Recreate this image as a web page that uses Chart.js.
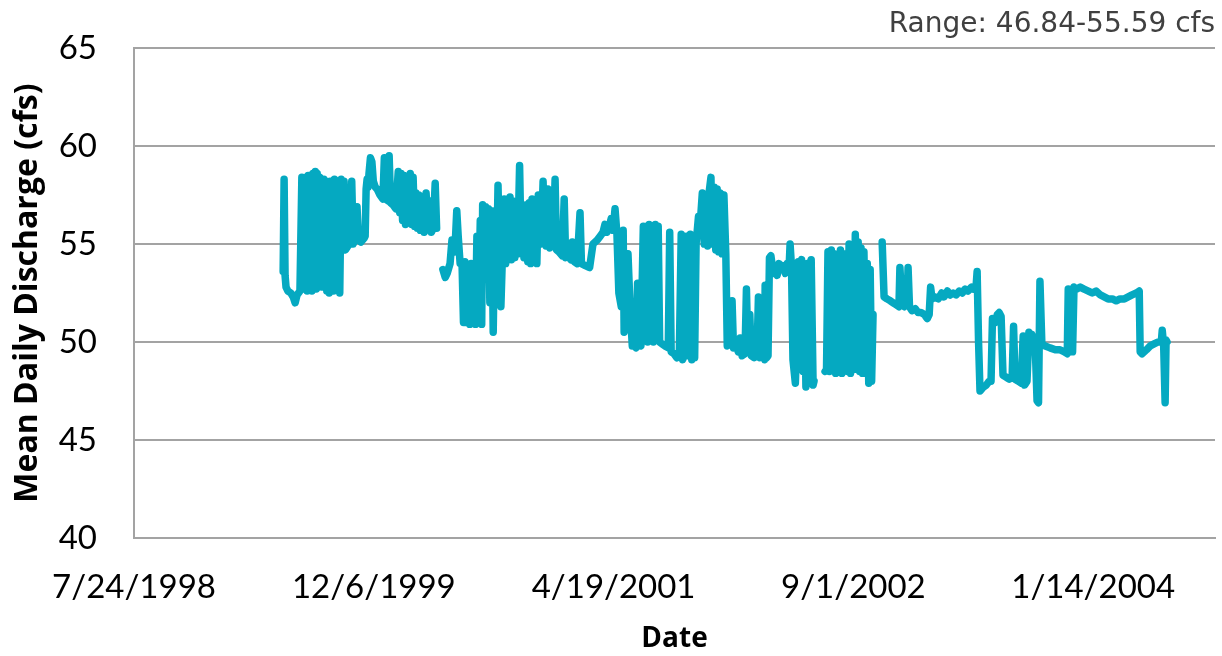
<!DOCTYPE html>
<html><head><meta charset="utf-8">
<script src="https://cdn.jsdelivr.net/npm/chart.js@4.4.1/dist/chart.umd.min.js"></script>
<style>html,body{margin:0;padding:0;background:#fff}</style>
</head><body>
<canvas id="c" width="1222" height="656"></canvas>
<script>
// x = days since 7/24/1998 ; null value = gap in record
const daysSince19980724 = [
311,313,315,317,321,327,332,336,340,346,
350,352,355,357,359,361,363,366,369,371,
373,375,378,380,382,384,387,389,391,393,
396,398,400,402,405,407,409,411,414,416,
418,420,423,425,427,429,432,434,436,438,
441,446,450,454,457,461,465,468,473,480,
482,484,486,488,490,493,496,499,503,507,
513,519,522,524,530,532,535,540,546,551,
554,557,560,563,566,569,572,576,579,582,
585,588,591,594,597,601,605,609,613,617,
620,624,628,631,636,
644,649,653,659,663,669,673,676,680,684,
687,690,693,697,700,703,706,709,712,715,
718,722,725,727,730,733,736,739,742,746,
749,752,755,759,762,765,769,772,775,778,
781,784,787,790,794,797,800,804,807,810,
813,818,821,824,827,830,833,837,840,843,
849,853,856,859,863,867,870,874,878,881,
886,893,897,900,905,911,914,918,924,930,
933,941,950,957,966,972,978,982,986,991,
995,999,1003,1007,1011,1016,1020,1022,1026,1030,
1034,1039,1043,1047,1050,1053,1057,1062,1065,1068,
1071,1074,1077,1080,1083,1087,1090,1093,1096,1101,
1107,1114,1117,1120,1126,1132,1137,1141,1144,1149,
1152,1155,1160,1163,1166,1169,1172,1177,1180,1185,
1189,1193,1196,1199,1203,1206,1210,1213,1216,1219,
1222,1226,1230,1234,1237,1241,1245,1247,1250,1255,
1260,1264,1268,1274,1277,1280,1284,1287,1293,1299,
1302,1305,1312,1315,1316,1319,1322,1325,1328,1333,
1337,1341,1345,1349,1353,1358,1362,1366,1368,1371,
1374,1379,1382,1385,1389,1392,1395,1398,1401,1404,
1408,1412,1416,1418,1429,
1441,1444,1447,1450,1454,1457,1460,1463,1466,1469,
1473,1476,1479,1482,1485,1488,1491,1494,1497,1501,
1504,1507,1510,1513,1516,1519,1522,1526,1529,1532,
1535,1538,1541,1550,
1560,1564,1570,1577,1583,1589,1595,1597,1601,1606,
1612,1614,1617,1622,1629,1635,1641,1648,1654,1658,
1661,1664,1670,1677,1684,1689,1696,1702,1708,1714,
1721,1727,1733,1739,1746,1750,1756,1758,1761,1764,
1771,1777,1783,1787,1790,1796,1800,1804,1808,1812,
1819,1825,1831,1834,1837,1844,1850,1854,1857,1862,
1866,1869,1872,1875,1879,1883,1886,1889,1893,1900,
1910,1921,1931,1940,1946,1948,1951,1954,1957,1960,
1965,1973,1981,1990,1998,2006,2015,2023,2031,2040,
2048,2056,2065,2073,2081,2090,2096,2098,2102,2111,
2119,2127,2135,2142,2144,2147,2150,2152,2154
];
const discharge = [
53.6,58.3,53.4,52.8,52.6,52.5,52.3,52.0,52.4,52.6,
58.4,52.7,58.3,52.9,58.4,52.6,58.5,52.8,58.5,52.6,
58.6,52.9,58.7,52.7,58.6,52.8,58.4,55.0,58.2,52.8,
58.3,54.8,58.2,52.6,58.0,52.5,58.2,53.0,58.2,52.6,
58.3,55.0,58.0,52.6,58.2,52.5,58.3,54.8,54.9,58.2,
54.7,54.9,55.0,58.2,55.0,55.3,56.9,55.2,55.1,55.3,
55.4,57.8,58.3,57.9,58.6,59.4,59.2,58.2,57.9,57.8,
57.5,57.3,59.4,57.3,57.2,59.5,57.1,57.0,56.8,58.7,
56.6,58.6,56.2,58.5,56.0,57.0,56.2,58.6,56.0,58.4,
55.9,57.6,55.8,57.5,55.7,57.4,55.6,57.6,55.8,57.2,
55.6,55.8,58.1,55.8,null,
53.7,53.3,53.5,54.0,55.2,54.6,56.7,55.4,54.0,54.0,
51.0,54.1,51.0,53.8,50.9,54.0,51.1,53.9,50.9,55.4,
51.0,56.2,50.9,57.0,55.0,56.9,53.5,56.8,52.0,56.7,
50.5,55.5,52.0,58.0,54.5,51.8,55.0,57.3,54.0,56.5,
54.3,57.4,54.2,57.2,54.3,57.0,54.5,59.0,55.0,56.2,
54.3,57.0,54.1,57.1,54.0,57.3,54.2,56.8,54.0,57.5,
55.0,58.2,55.2,54.9,57.8,54.8,54.9,55.0,58.3,54.7,
54.6,54.4,57.3,54.3,54.4,54.2,55.1,54.1,54.0,56.6,
54.0,53.9,53.8,55.0,55.2,55.4,55.6,56.0,55.6,55.9,
56.3,55.7,56.8,55.5,52.5,51.8,55.7,50.5,51.5,54.5,
52.0,49.8,50.0,49.7,53.0,50.0,49.8,55.9,50.1,55.9,
50.0,56.0,50.2,55.8,50.0,56.0,50.1,55.9,50.0,49.9,
49.8,49.7,55.6,49.5,49.4,49.2,49.3,55.5,49.1,49.5,
55.4,49.3,55.5,49.1,55.3,49.2,55.0,56.4,55.8,57.6,
55.0,57.4,54.9,57.6,58.4,55.0,57.9,54.7,57.8,54.6,
57.6,54.5,57.5,54.5,49.8,49.9,50.0,52.1,49.7,49.9,
49.5,50.2,49.3,49.4,52.7,49.5,51.4,49.3,49.2,49.3,
52.3,49.2,49.3,49.1,52.9,49.2,49.3,54.3,54.4,53.5,
53.9,53.4,54.0,53.7,53.9,53.5,54.0,53.8,55.0,53.8,
49.1,47.9,50.0,54.1,53.9,54.2,48.5,53.9,47.7,54.0,
50.0,54.2,47.8,48.0,null,
48.5,48.6,54.6,48.5,54.7,49.0,54.5,48.4,54.3,48.6,
54.7,48.4,54.2,49.5,54.5,48.5,55.0,48.4,54.0,48.6,
55.5,48.8,55.1,48.5,54.8,48.4,54.6,48.6,54.0,47.9,
53.7,48.0,51.4,null,
55.1,52.3,52.2,52.1,52.0,51.9,51.8,53.8,51.9,51.8,
52.0,53.8,51.8,51.6,51.7,51.5,51.5,51.4,51.2,51.4,
52.8,52.2,52.3,52.2,52.5,52.3,52.6,52.4,52.5,52.4,
52.6,52.5,52.7,52.6,52.8,52.7,52.9,53.6,50.0,47.5,
47.7,47.8,48.0,48.0,51.2,51.0,51.4,51.5,51.3,48.3,
48.2,48.1,48.2,50.8,48.1,48.0,47.9,50.3,47.8,48.0,
50.5,49.8,50.4,50.0,49.9,47.0,46.9,53.1,49.9,49.8,
49.7,49.6,49.6,49.5,49.4,52.7,49.6,52.6,49.5,52.8,
52.7,52.8,52.7,52.6,52.5,52.6,52.4,52.3,52.2,52.2,
52.1,52.2,52.2,52.3,52.4,52.5,52.6,49.5,49.4,49.6,
49.8,49.9,50.0,50.0,50.6,49.8,46.9,50.1,50.0
];
const xTickDays = [0, 500, 1000, 1500, 2000];
const xTickLabels = ['7/24/1998', '12/6/1999', '4/19/2001', '9/1/2002', '1/14/2004'];
const yTickValues = [40, 45, 50, 55, 60, 65];
const rangeNote = 'Range: 46.84-55.59 cfs';
const xTitle = 'Date';
const yTitle = 'Mean Daily Discharge (cfs)';

const points = daysSince19980724.map((d, i) => ({ x: d, y: discharge[i] }));
const gridGrey = '#a3a3a3';

new Chart(document.getElementById('c'), {
  type: 'line',
  data: { datasets: [{
    data: points, borderColor: '#05a9c1', borderWidth: 7.5, pointRadius: 0,
    tension: 0, spanGaps: false, fill: false,
    borderJoinStyle: 'round', borderCapStyle: 'round'
  }]},
  options: {
    responsive: false, animation: false, devicePixelRatio: 1,
    layout: { padding: { left: 0, right: 7, top: 0, bottom: 0 } },
    plugins: {
      legend: { display: false }, tooltip: { enabled: false },
      title: { display: true, text: rangeNote, align: 'end', color: '#404040',
        font: { family: 'DejaVu Sans', size: 28, weight: 'normal' },
        padding: { top: 8, bottom: 6.4 } }
    },
    scales: {
      x: {
        type: 'linear', min: 0, max: 2254,
        afterBuildTicks: s => { s.ticks = xTickDays.map(v => ({ value: v })); },
        afterFit: s => { s.height = 118; s.paddingLeft = 0; s.paddingRight = 0; },
        ticks: { callback: v => { const i = xTickDays.indexOf(v); return i >= 0 ? xTickLabels[i] : ''; },
          font: { family: 'Lato', size: 33 }, color: '#000', padding: 30, maxRotation: 0, autoSkip: false },
        grid: { display: false, drawTicks: false },
        border: { display: true, color: gridGrey, width: 2 },
        title: { display: true, text: xTitle, color: '#000',
          font: { family: 'Open Sans', size: 28, weight: 'bold' }, padding: { top: 0, bottom: 0 } }
      },
      y: {
        min: 40, max: 65,
        afterBuildTicks: s => { s.ticks = yTickValues.map(v => ({ value: v })); },
        afterFit: s => { s.width = 134; s.paddingTop = 0; s.paddingBottom = 0; },
        ticks: { font: { family: 'Lato', size: 33 }, color: '#000', padding: 37 },
        grid: { color: gridGrey, lineWidth: 2, drawTicks: false },
        border: { display: true, color: gridGrey, width: 2 },
        title: { display: true, text: yTitle, color: '#000',
          font: { family: 'Open Sans', size: 32, weight: 'bold' }, padding: { top: 9, bottom: 0 } }
      }
    }
  }
});
</script>
</body></html>
